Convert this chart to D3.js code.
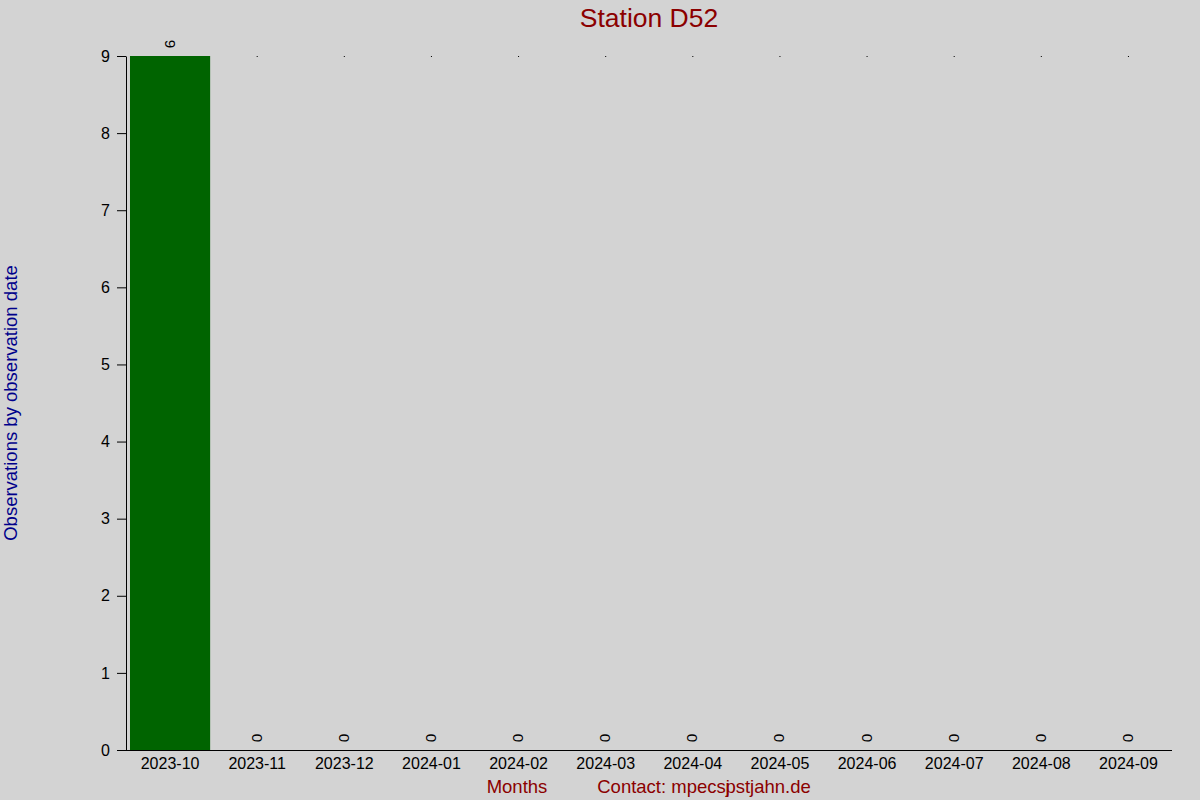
<!DOCTYPE html>
<html lang="en">
<head>
<meta charset="UTF-8">
<title>Station D52</title>
<script src="https://cdn.jsdelivr.net/npm/d3@7"></script>
<style>
  body { margin: 0; background: #d3d3d3; }
  svg { display: block; font-family: "Liberation Sans", Arial, sans-serif; }
</style>
</head>
<body>
<div id="container"></div>
<script>
const months = ["2023-10","2023-11","2023-12","2024-01","2024-02","2024-03",
                "2024-04","2024-05","2024-06","2024-07","2024-08","2024-09"];
const counts = [9,0,0,0,0,0,0,0,0,0,0,0];
const yTicks = [0,1,2,3,4,5,6,7,8,9];

const width = 1200, height = 800;
const margin = {top: 56, right: 28, bottom: 50, left: 126.5};

const svg = d3.select("#container")
    .append("svg")
    .attr("width", width)
    .attr("height", height);

svg.append("rect")
    .attr("width", width)
    .attr("height", height)
    .attr("fill", "#d3d3d3");

// scales
const xScale = d3.scaleBand()
    .domain(months)
    .range([margin.left, width - margin.right])
    .paddingInner(0.08)
    .paddingOuter(0.04);
const yScale = d3.scaleLinear()
    .domain([0, 9])
    .range([height - margin.bottom, margin.top]);

// bars
svg.selectAll(".bar")
    .data(months)
    .enter()
    .append("rect")
    .attr("class", "bar")
    .attr("x", d => xScale(d))
    .attr("width", xScale.bandwidth())
    .attr("y", (d, i) => yScale(counts[i]))
    .attr("height", (d, i) => yScale(0) - yScale(counts[i]))
    .attr("fill", "#006400");

// value labels (rotated)
svg.selectAll(".val")
    .data(months)
    .enter()
    .append("text")
    .attr("class", "val")
    .attr("transform", (d, i) => {
        const cx = xScale(d) + xScale.bandwidth() / 2;
        const cy = yScale(counts[i]) - 12;
        return `translate(${cx},${cy}) rotate(90)`;
    })
    .attr("text-anchor", "middle")
    .attr("dominant-baseline", "central")
    .attr("font-size", 15)
    .attr("fill", "#000")
    .text((d, i) => counts[i]);

// small marks at the top for each month
svg.selectAll(".dot")
    .data(months.slice(1))
    .enter()
    .append("rect")
    .attr("x", d => xScale(d) + xScale.bandwidth() / 2 - 0.5)
    .attr("y", yScale(9))
    .attr("width", 1)
    .attr("height", 1)
    .attr("fill", "#000");

// axes
const yAxis = svg.append("g")
    .attr("transform", `translate(${margin.left - 0.5},0)`)
    .call(d3.axisLeft(yScale).tickValues(yTicks).tickSize(9).tickSizeOuter(0).tickPadding(7));
yAxis.select(".domain").attr("stroke", "#000");
yAxis.selectAll(".tick line").attr("stroke", "#000");
yAxis.selectAll(".tick text")
    .attr("font-family", "Liberation Sans, Arial, sans-serif")
    .attr("font-size", 16)
    .attr("fill", "#000");

svg.append("line")
    .attr("x1", margin.left - 9)
    .attr("x2", width - margin.right)
    .attr("y1", yScale(0) + 0.5)
    .attr("y2", yScale(0) + 0.5)
    .attr("stroke", "#000");

const xAxis = svg.append("g")
    .attr("transform", `translate(0,${yScale(0)})`)
    .call(d3.axisBottom(xScale).tickSize(0).tickPadding(8));
xAxis.select(".domain").remove();
xAxis.selectAll(".tick text")
    .attr("font-family", "Liberation Sans, Arial, sans-serif")
    .attr("font-size", 16)
    .attr("fill", "#000");

// title and labels
svg.append("text")
    .attr("x", 649)
    .attr("y", 27)
    .attr("text-anchor", "middle")
    .attr("font-size", 26.5)
    .attr("fill", "#8b0000")
    .text("Station D52");

svg.append("text")
    .attr("transform", `translate(17,${(yScale(0) + yScale(9)) / 2}) rotate(-90)`)
    .attr("text-anchor", "middle")
    .attr("font-size", 18.5)
    .attr("fill", "#00008b")
    .text("Observations by observation date");

svg.append("text")
    .attr("x", 517)
    .attr("y", 793)
    .attr("text-anchor", "middle")
    .attr("font-size", 18.5)
    .attr("fill", "#8b0000")
    .text("Months");

const contact = svg.append("text")
    .attr("x", 704)
    .attr("y", 793)
    .attr("text-anchor", "middle")
    .attr("font-size", 18.5)
    .attr("fill", "#8b0000");
contact.append("tspan").text("Contact: mpecsj");
contact.append("tspan").attr("dx", -4.5).text("pstjahn.de");
</script>
</body>
</html>
